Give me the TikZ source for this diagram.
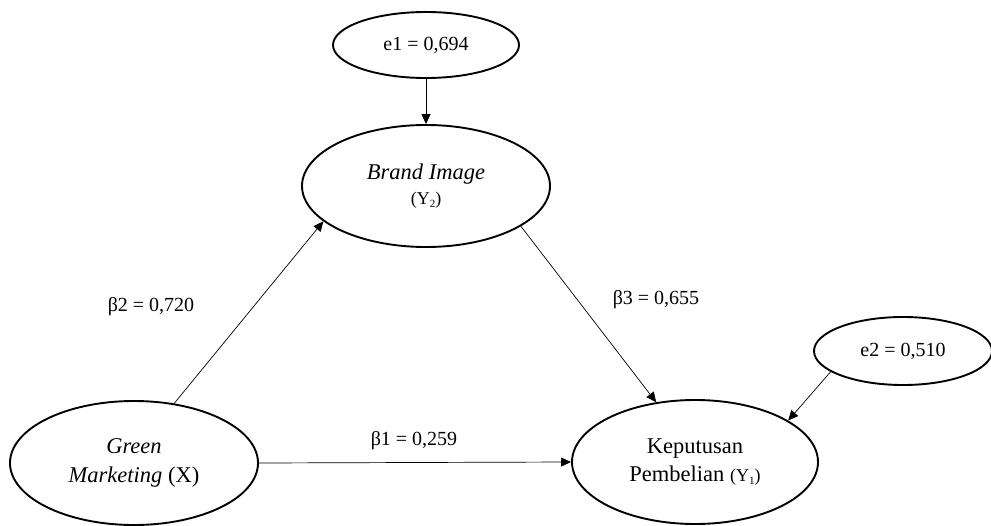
\documentclass[tikz,border=0pt]{standalone}
\usepackage{fontspec}
\setmainfont{Liberation Serif}
\usetikzlibrary{shapes.geometric,arrows.meta}
\newcommand{\smallsub}[1]{{\fontsize{18}{20}\selectfont (Y\raisebox{-3pt}{\fontsize{11}{12}\selectfont #1})}}
\begin{document}
\begin{tikzpicture}[x=1pt,y=-1pt,
  latent/.style={ellipse,draw,line width=1.9pt,inner sep=0pt,align=center,
    font=\fontsize{22.5}{28}\selectfont},
  errn/.style={ellipse,draw,line width=1.9pt,inner sep=0pt,
    font=\fontsize{20}{24}\selectfont},
  conn/.style={line width=0.7pt,-{Triangle[length=10pt,width=9pt]}},
  coef/.style={font=\fontsize{20}{24}\selectfont,inner sep=0pt}]
\useasboundingbox (0,0) rectangle (991,525);
\node[errn,minimum width=186pt,minimum height=66pt] (e1) at (426,45) {e1 = 0,694};
\node[latent,minimum width=248pt,minimum height=122pt] (B) at (426,186)
  {\raisebox{9pt}{\textit{Brand Image}}\\[-8pt]\raisebox{4pt}{\smallsub{2}}};
\node[latent,minimum width=248pt,minimum height=124pt] (G) at (134,463)
  {\raisebox{4pt}{\textit{Green}}\\\raisebox{3pt}{\textit{Marketing} (X)}};
\node[latent,minimum width=246pt,minimum height=124pt] (K) at (695,462)
  {\raisebox{3pt}{Keputusan}\\\raisebox{3pt}{Pembelian \smallsub{1}}};
\node[errn,minimum width=178pt,minimum height=68pt] (e2) at (903,351) {e2 = 0,510};
\draw[conn] (e1.south) -- (B.north);
\draw[conn] (G.56) -- (B.199);
\draw[conn] (B.337) -- (K.123);
\draw[conn] (G.east) -- (K.west);
\draw[conn] (e2.196) -- (K.24);
\node[coef] (b2) at (151,307) {β2 = 0,720};
\node[coef] (b3) at (656,300) {β3 = 0,655};
\node[coef] (b1) at (414,441) {β1 = 0,259};
\end{tikzpicture}
\end{document}
